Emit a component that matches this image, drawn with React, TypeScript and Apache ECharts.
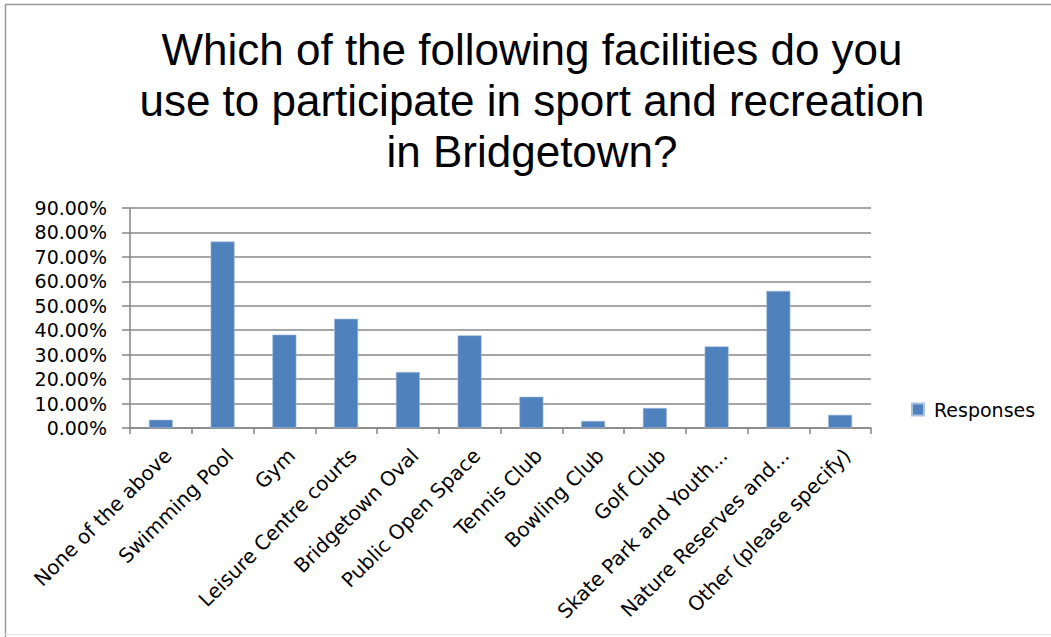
import React, { useEffect, useRef } from "react";
import * as echarts from "echarts";

const titleLines = [
  "Which of the following facilities do you",
  "use to participate in sport and recreation",
  "in Bridgetown?",
];
const categories = [
  "None of the above",
  "Swimming Pool",
  "Gym",
  "Leisure Centre courts",
  "Bridgetown Oval",
  "Public Open Space",
  "Tennis Club",
  "Bowling Club",
  "Golf Club",
  "Skate Park and Youth...",
  "Nature Reserves and...",
  "Other (please specify)",
];
const responses = [3.4, 76.3, 38.2, 44.7, 22.9, 37.9, 12.8, 2.9, 8.2, 33.4, 56.1, 5.4];
const seriesName = "Responses";
const yMin = 0;
const yMax = 90;
const yStep = 10;

const labelFont = "'DejaVu Sans', sans-serif";
const titleFont = "'Liberation Sans', Arial, sans-serif";

export default function App() {
  const ref = useRef<HTMLDivElement>(null);
  useEffect(() => {
    if (!ref.current) return;
    const chart = echarts.init(ref.current, undefined, { renderer: "svg" });
    const titleY = [49, 100, 151];
    chart.setOption({
      animation: false,
      backgroundColor: "#ffffff",
      graphic: [
        ...titleLines.map((t, i) => ({
          type: "text",
          x: 532,
          y: titleY[i],
          style: {
            text: t,
            fill: "#000000",
            font: `44px ${titleFont}`,
            align: "center",
            verticalAlign: "middle",
          },
        })),
        { type: "line", shape: { x1: 5, y1: 4.5, x2: 1051, y2: 4.5 }, style: { stroke: "#9a9a9a", lineWidth: 1.5 } },
        { type: "line", shape: { x1: 5.5, y1: 4, x2: 5.5, y2: 637 }, style: { stroke: "#9a9a9a", lineWidth: 1.5 } },
        { type: "line", shape: { x1: 5, y1: 634.5, x2: 1051, y2: 634.5 }, style: { stroke: "#e4e4e4", lineWidth: 1 } },
      ],
      legend: {
        left: 911,
        top: 400,
        padding: 0,
        orient: "vertical",
        icon: "rect",
        itemWidth: 12,
        itemHeight: 12,
        itemGap: 10,
        textStyle: { fontFamily: labelFont, fontSize: 19, color: "#000000", padding: [0, 0, 0, 5] },
        data: [seriesName],
      },
      grid: { left: 130, right: 180, top: 208, bottom: 209, containLabel: false },
      xAxis: {
        type: "category",
        data: categories,
        boundaryGap: true,
        axisLine: { show: true, lineStyle: { color: "#868686", width: 1.5 } },
        axisTick: { show: true, length: 6, alignWithLabel: false, lineStyle: { color: "#868686", width: 1.5 } },
        axisLabel: {
          interval: 0,
          rotate: 45,
          margin: 17,
          align: "right",
          verticalAlign: "top",
          fontFamily: labelFont,
          fontSize: 20,
          color: "#000000",
        },
        splitLine: { show: false },
      },
      yAxis: {
        type: "value",
        min: yMin,
        max: yMax,
        interval: yStep,
        axisLine: { show: true, lineStyle: { color: "#868686", width: 1.5 } },
        axisTick: { show: true, length: 8, inside: false, lineStyle: { color: "#868686", width: 1.5 } },
        axisLabel: {
          margin: 23,
          fontFamily: labelFont,
          fontSize: 19,
          color: "#000000",
          formatter: (v: number) => v.toFixed(2) + "%",
        },
        splitLine: { show: true, lineStyle: { color: "#898989", width: 1.5 } },
      },
      series: [
        {
          name: seriesName,
          type: "bar",
          data: responses,
          barWidth: 24,
          itemStyle: { color: "#4F81BD", borderColor: "#a9c0de", borderWidth: 0.6 },
        },
      ],
    });
    return () => chart.dispose();
  }, []);
  return (
    <div
      ref={ref}
      style={{ position: "absolute", left: 0, top: 0, width: 1051, height: 637 }}
    />
  );
}
